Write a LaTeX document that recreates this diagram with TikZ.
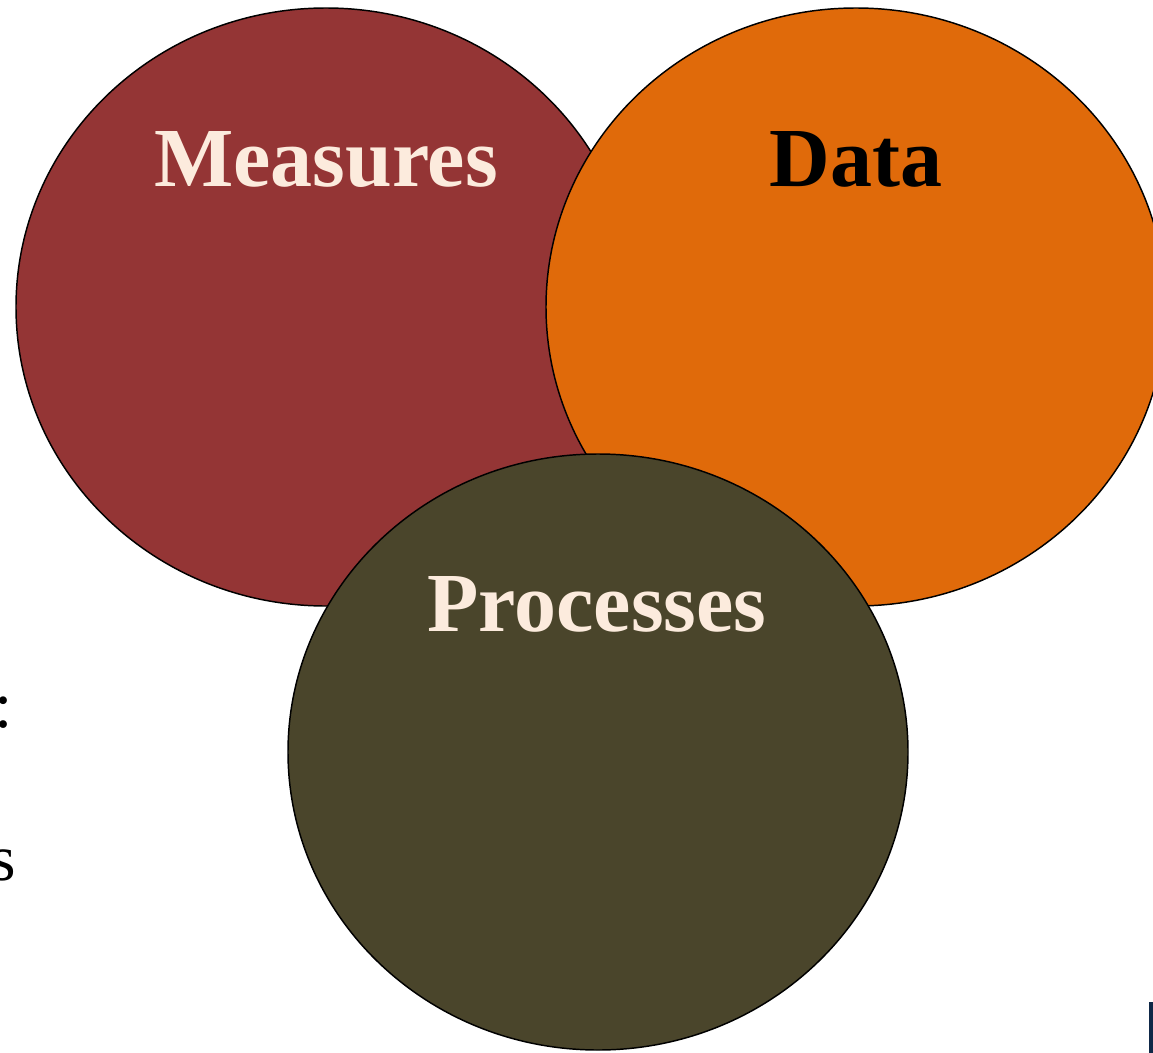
\documentclass[tikz,border=0pt]{standalone}
\usepackage{fontspec}
\setmainfont{Liberation Serif}
\definecolor{measred}{HTML}{943535}
\definecolor{dataorange}{HTML}{E06A0A}
\definecolor{procolive}{HTML}{4A452B}
\definecolor{cream}{HTML}{FCEBDD}
\definecolor{navy}{HTML}{0F2847}
\begin{document}
\begin{tikzpicture}[x=0.75pt,y=-0.75pt,
  blob/.style={draw=black,line width=1.1pt},
  title/.style={font=\bfseries\fontsize{63}{70}\selectfont,anchor=base,inner sep=0pt},
  stray/.style={font=\fontsize{49}{56}\selectfont,inner sep=0pt}]
\useasboundingbox (0,0) rectangle (1153,1053);
\clip (0,0) rectangle (1153,1053);
% background text fragments at the left edge
\node[stray,anchor=base west] (colon) at (-6,727) {:};
\node[stray,anchor=base east] (ess) at (16,880) {s};
% corner mark
\fill[navy] (1149,1002) rectangle (1160,1060);
% three overlapping circles
\draw[blob,fill=measred] (326,307) ellipse [x radius=310,y radius=299];
\draw[blob,fill=dataorange] (856,307) ellipse [x radius=310,y radius=299];
\draw[blob,fill=procolive] (598,752) ellipse [x radius=310,y radius=298];
% labels
\node[title,text=cream] (measures) at (326,186) {Measures};
\node[title,text=black] (data) at (856,186) {Data};
\node[title,text=cream] (processes) at (597,631) {Processes};
\end{tikzpicture}
\end{document}
